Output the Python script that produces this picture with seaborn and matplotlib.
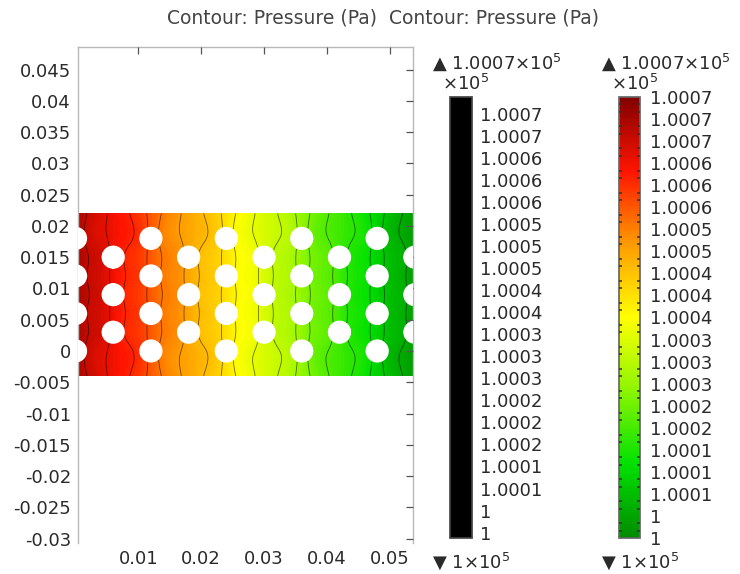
import numpy as np
import matplotlib
matplotlib.use("Agg")
import matplotlib.pyplot as plt
from matplotlib.colors import Normalize, ListedColormap
from matplotlib.cm import ScalarMappable
from matplotlib.patches import Circle
from matplotlib.ticker import FixedLocator
import seaborn as sns

# Channel geometry (m)
channel_x = [0.0003, 0.0537]
channel_y = [-0.004, 0.022]
post_columns = [0.000, 0.006, 0.012, 0.018, 0.024, 0.030, 0.036, 0.042, 0.048, 0.054]
rows_even = [0.000, 0.006, 0.012, 0.018]
rows_odd = [0.003, 0.009, 0.015]
post_radius = 0.00185

# Pressure (Pa)
p_range = [100000.0, 100074.0]
p_inlet = 100070.0
p_outlet = 100003.0
post_bump = 2.5

# Contour-line levels and the filled colour legend ticks
line_levels = [100000.9, 100004.6, 100008.3, 100012.0, 100015.7, 100019.4, 100023.1,
               100026.8, 100030.5, 100034.2, 100037.9, 100041.6, 100045.3, 100049.0,
               100052.7, 100056.4, 100060.1, 100063.8, 100067.5, 100071.2]
line_labels = ["1", "1", "1.0001", "1.0001", "1.0002", "1.0002", "1.0002", "1.0003",
               "1.0003", "1.0003", "1.0004", "1.0004", "1.0005", "1.0005", "1.0005",
               "1.0006", "1.0006", "1.0006", "1.0007", "1.0007"]
fill_ticks = [100000.0, 100003.7, 100007.4, 100011.1, 100014.8, 100018.5, 100022.2,
              100025.9, 100029.6, 100033.3, 100037.0, 100040.7, 100044.4, 100048.1,
              100051.8, 100055.5, 100059.2, 100062.9, 100066.6, 100070.3, 100074.0]
fill_labels = ["1", "1", "1.0001", "1.0001", "1.0001", "1.0002", "1.0002", "1.0003",
               "1.0003", "1.0003", "1.0004", "1.0004", "1.0004", "1.0005", "1.0005",
               "1.0006", "1.0006", "1.0006", "1.0007", "1.0007", "1.0007"]

xticks = [0.01, 0.02, 0.03, 0.04, 0.05]
xtick_labels = ["0.01", "0.02", "0.03", "0.04", "0.05"]
yticks = [-0.03, -0.025, -0.02, -0.015, -0.01, -0.005, 0.0, 0.005, 0.01, 0.015,
          0.02, 0.025, 0.03, 0.035, 0.04, 0.045]
ytick_labels = ["-0.03", "-0.025", "-0.02", "-0.015", "-0.01", "-0.005", "0", "0.005",
                "0.01", "0.015", "0.02", "0.025", "0.03", "0.035", "0.04", "0.045"]
xlim = [0.0004, 0.0537]
ylim = [-0.0307, 0.0486]

traffic_colors = ["#008c00", "#00e100", "#8cf500", "#ffff00", "#ff9b00", "#ff1400", "#820000"]

sns.set_theme(style="white")
plt.rcParams["font.family"] = ["DejaVu Sans"]
plt.rcParams["axes.unicode_minus"] = False
plt.rcParams["axes.axisbelow"] = False
text_color = "#2a2a2a"
fs = 13

cmap = sns.blend_palette(traffic_colors, as_cmap=True)
norm = Normalize(vmin=p_range[0], vmax=p_range[1])

fig = plt.figure(figsize=(7.4, 5.74), dpi=100)
ax = fig.add_axes([78 / 740, 31 / 574, 335 / 740, 496 / 574])

# Pressure field: linear drop along the channel plus a local disturbance at each post
gx = np.linspace(channel_x[0], channel_x[1], 700)
gy = np.linspace(channel_y[0], channel_y[1], 340)
X, Y = np.meshgrid(gx, gy)
P = p_inlet + (p_outlet - p_inlet) * (X - channel_x[0]) / (channel_x[1] - channel_x[0])
inside = np.zeros_like(X, dtype=bool)
posts = []
for i, cx in enumerate(post_columns):
    for cy in (rows_even if i % 2 == 0 else rows_odd):
        posts.append((cx, cy))
for cx, cy in posts:
    dx, dy = X - cx, Y - cy
    r2 = dx ** 2 + dy ** 2
    P += -post_bump * dx / post_radius * np.exp(-r2 / (2.0 * post_radius) ** 2)
    inside |= r2 < post_radius ** 2
Pm = np.ma.masked_where(inside, P)

ax.contourf(X, Y, Pm, levels=np.linspace(p_range[0], p_range[1], 161),
            cmap=cmap, norm=norm, extend="both")
ax.contour(X, Y, Pm, levels=line_levels, colors="black", linewidths=0.6, alpha=0.55)
for cx, cy in posts:
    ax.add_patch(Circle((cx, cy), post_radius, facecolor="white", edgecolor="none",
                        zorder=3, clip_on=True))

ax.set_xlim(xlim)
ax.set_ylim(ylim)
ax.set_xticks(xticks)
ax.set_xticklabels(xtick_labels)
ax.set_yticks(yticks)
ax.set_yticklabels(ytick_labels)
ax.tick_params(direction="in", length=5, width=0.9, color="#555555",
               top=True, right=True, labelsize=fs, labelcolor=text_color, pad=5)
for name, sp in ax.spines.items():
    sp.set_color("#b8b8b8")
    sp.set_linewidth(1.0)
ax.spines["bottom"].set_visible(False)

# Contour-line legend (black bar)
cax1 = fig.add_axes([450 / 740, 36 / 574, 22 / 740, 441 / 574])
cb1 = fig.colorbar(ScalarMappable(norm=norm, cmap=ListedColormap(["black"])), cax=cax1)
cb1.set_ticks(line_levels)
cb1.set_ticklabels(line_labels)
cb1.outline.set_edgecolor("#444444")
cax1.tick_params(length=0, labelsize=fs, labelcolor=text_color, pad=6)

# Filled-contour colour legend with dashed level marks inside the bar
cax2 = fig.add_axes([619 / 740, 36 / 574, 21 / 740, 441 / 574])
cax2.set_axisbelow(False)
cb2 = fig.colorbar(ScalarMappable(norm=norm, cmap=cmap), cax=cax2)
cb2.set_ticks(fill_ticks)
cb2.set_ticklabels(fill_labels)
cb2.minorlocator = FixedLocator(np.linspace(p_range[0], p_range[1], 61))
cb2.outline.set_edgecolor("#666666")
cax2.tick_params(which="major", length=0, labelsize=fs, labelcolor=text_color, pad=7)
cax2.tick_params(which="minor", direction="in", left=True, right=True, length=2.5,
                 width=1.1, color="#333333")

# Range annotations above and below each bar
for xc, xtri in ((461, 432), (630, 601)):
    fig.text(xtri / 740, 1 - 62 / 574, "\u25b2 1.0007\u00d710$^5$", ha="left", va="center",
             fontsize=fs, color=text_color)
    fig.text(xc / 740 + 0.006, 1 - 84 / 574, "\u00d710$^5$", ha="center", va="center",
             fontsize=fs, color=text_color)
    fig.text(xtri / 740, 1 - 561 / 574, "\u25bc 1\u00d710$^5$", ha="left", va="center",
             fontsize=fs, color=text_color)

fig.text(383 / 740, 1 - 18 / 574, "Contour: Pressure (Pa)  Contour: Pressure (Pa)",
         ha="center", va="center", fontsize=13.5, color="#444444")

fig.savefig("out.png", dpi=100)
